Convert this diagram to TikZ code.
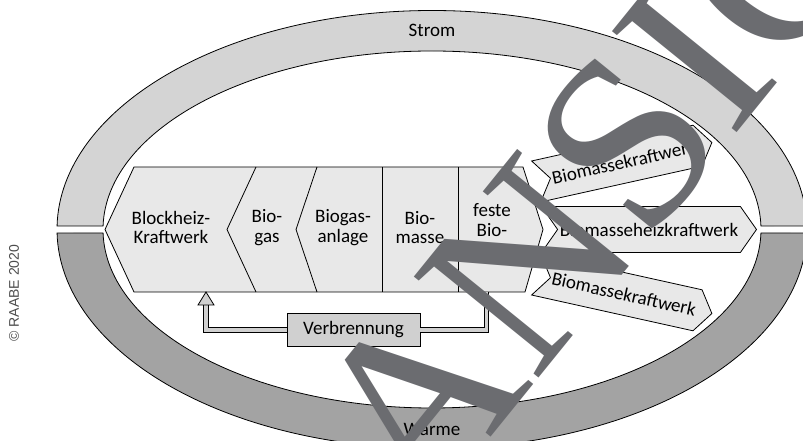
\documentclass[tikz,border=0pt]{standalone}
\usepackage{fontspec}
\setmainfont{Carlito}
\newfontfamily\stampfont{Liberation Serif}
\newfontfamily\copyfont{Liberation Sans}
\usetikzlibrary{shapes.symbols, positioning, calc}
\definecolor{stromgrey}{RGB}{212,212,212}
\definecolor{waermegrey}{RGB}{163,163,163}
\definecolor{chaingrey}{RGB}{232,232,232}
\definecolor{verbgrey}{RGB}{208,208,208}
\definecolor{stampgrey}{RGB}{107,108,112}

\begin{document}
\begin{tikzpicture}[
    x=1pt, y=1pt,
    ring/.style={draw, line width=0.8pt},
    txt/.style={font=\fontsize{19}{19.5}\selectfont, align=center, inner sep=0pt},
    plant/.style={signal, signal from=west, signal to=east, signal pointer angle=110, draw, line width=0.8pt, fill=chaingrey, font=\fontsize{19}{20}\selectfont, inner sep=0pt},
    feedline/.style={line width=0.8pt, double=verbgrey, double distance=3.6pt}
]
    \useasboundingbox (0,0) rectangle (803,441);
    \clip (0,0) rectangle (803,441);
    \coordinate (ctr) at (432,211.5);

    % Strom / Waerme ring
    \draw[ring, fill=stromgrey] ([shift={(0.92:375 and 219)}]ctr) arc[start angle=0.92, end angle=179.08, x radius=375, y radius=219]
        -- ([shift={(178.88:329 and 178.5)}]ctr) arc[start angle=178.88, end angle=1.12, x radius=329, y radius=178.5] -- cycle;
    \draw[ring, fill=waermegrey] ([shift={(-0.92:375 and 219)}]ctr) arc[start angle=-0.92, end angle=-179.08, x radius=375, y radius=219]
        -- ([shift={(-178.88:329 and 178.5)}]ctr) arc[start angle=-178.88, end angle=-1.12, x radius=329, y radius=178.5] -- cycle;
    \node[txt] (strom) at (432,411) {Strom};
    \node[txt] (waerme) at (432,12) {Wärme};

    % Chain
    \draw[line width=0.8pt, fill=chaingrey] (105,211.5) -- (134,274) -- (523,274) -- (543,211.5) -- (525,149) -- (134,149) -- cycle;
    \draw[line width=0.8pt] (256,274) -- (227,211.5) -- (256,149);
    \draw[line width=0.8pt] (317,274) -- (296,211.5) -- (317,149);
    \draw[line width=0.8pt] (382,274) -- (382,149);
    \draw[line width=0.8pt] (458,274) -- (458,149);
    \node[txt] (bhkw) at (171,213.5) {Blockheiz-\\Kraftwerk};
    \node[txt] (biogas) at (267,213.5) {Bio-\\gas};
    \node[txt] (anlage) at (343,213.5) {Biogas-\\anlage};
    \node[txt] (biomasse) at (420,213.5) {Bio-\\masse};
    \node[txt] (feste) at (492,211) {feste\\Bio-\\masse};

    % Plants
    \node[plant, minimum width=180pt, minimum height=42pt, rotate=12.5] (kw top) at (624,279) {Biomassekraftwerk};
    \node[plant, minimum width=215pt, minimum height=46pt] (hkw) at (649,211.5) {Biomasseheizkraftwerk};
    \node[plant, minimum width=180pt, minimum height=42pt, rotate=-12.5] (kw bottom) at (624,147) {Biomassekraftwerk};

    % Verbrennung
    \node[txt, draw, line width=0.8pt, fill=verbgrey, minimum width=133pt, minimum height=33pt] (verb) at (353.5,111) {Verbrennung};
    \coordinate (fb out) at (486.5,149);
    \coordinate (fb in) at (206,149);
    \draw[feedline] (fb out) |- (verb.east);
    \draw[feedline] (verb.west) -| ([yshift=-11pt]fb in);
    \draw[line width=0.8pt, fill=verbgrey] ([shift={(-8,-13)}]fb in) -- (fb in) -- ([shift={(8,-13)}]fb in) -- cycle;

    \node[font=\copyfont\fontsize{14}{14}\selectfont, text=black!70, rotate=90] (copy) at (14,148) {© RAABE 2020};
    \node[font=\stampfont\fontsize{245}{245}\selectfont, text=stampgrey, rotate=51, inner sep=0pt, anchor=base west] (stamp) at (423.5,-79.7) {ANSICHT};
\end{tikzpicture}
\end{document}
